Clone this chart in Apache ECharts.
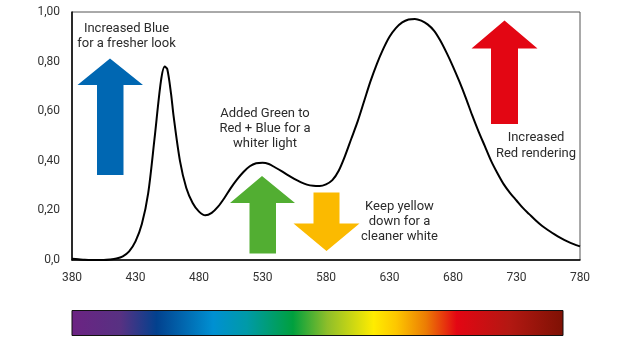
<!DOCTYPE html>
<html><head><meta charset="utf-8">
<script src="https://cdn.jsdelivr.net/npm/echarts@6/dist/echarts.min.js"></script>
<style>html,body{margin:0;padding:0;background:#fff}#c{width:618px;height:338px}</style>
</head><body><div id="c"></div>
<script>
// wavelength (nm)
const wavelengths = [380,385,390,395,400,405,410,415,420,425,430,435,440,445,450,453,455,458,460,465,470,475,480,485,490,495,500,505,510,515,520,525,530,535,540,545,550,555,560,565,570,575,580,585,590,595,600,605,610,615,620,625,630,635,640,645,650,655,660,665,670,675,680,685,690,695,700,705,710,715,720,725,730,735,740,745,750,755,760,765,770,775,780];
// relative intensity
const intensity = [0.005,0.003,0.001,0.0,0.0,0.0,0.002,0.006,0.015,0.035,0.075,0.145,0.27,0.49,0.72,0.78,0.77,0.67,0.58,0.40,0.29,0.23,0.195,0.18,0.19,0.215,0.25,0.29,0.325,0.355,0.378,0.39,0.392,0.387,0.373,0.358,0.342,0.327,0.314,0.304,0.299,0.298,0.305,0.322,0.36,0.42,0.49,0.56,0.64,0.72,0.79,0.85,0.90,0.935,0.958,0.97,0.972,0.965,0.95,0.925,0.885,0.835,0.78,0.72,0.655,0.585,0.52,0.46,0.40,0.35,0.305,0.27,0.24,0.21,0.185,0.16,0.138,0.12,0.103,0.088,0.075,0.064,0.055];
const xTicks = [380,430,480,530,580,630,680,730,780];
const yTicks = [0,0.2,0.4,0.6,0.8,1.0];
const notes = [
  'Increased Blue\nfor a fresher look',
  'Added Green to\nRed + Blue for a\nwhiter light',
  'Keep yellow\ndown for a\ncleaner white',
  'Increased\nRed rendering'
];

const FONT = 'Roboto';
const chart = echarts.init(document.getElementById('c'), null, {renderer:'canvas'});

function arrowUp(tipX, tipY, headY, headL, headR, shaftL, shaftR, bottom){
  return [[tipX,tipY],[headR,headY],[shaftR,headY],[shaftR,bottom],[shaftL,bottom],[shaftL,headY],[headL,headY]];
}
function arrowDown(tipX, tipY, headY, headL, headR, shaftL, shaftR, top){
  return [[tipX,tipY],[headR,headY],[shaftR,headY],[shaftR,top],[shaftL,top],[shaftL,headY],[headL,headY]];
}
function noteText(txt, x, y, lh){
  return {type:'text', z:10, style:{text:txt, x:x, y:y, align:'center', verticalAlign:'middle',
    font:'13px ' + FONT, fill:'#2b2b2b', lineHeight:lh}};
}

const option = {
  animation:false,
  grid:{left:72, right:38, top:12, bottom:78, show:true, borderColor:'#555', borderWidth:1},
  xAxis:{type:'value', min:380, max:780, interval:50,
    axisLine:{show:true, lineStyle:{color:'#000', width:1.5}},
    axisTick:{show:false}, splitLine:{show:false},
    axisLabel:{color:'#333', fontFamily:FONT, fontSize:12, margin:12,
      formatter:v => xTicks.includes(v) ? String(v) : ''}},
  yAxis:{type:'value', min:0, max:1, interval:0.2,
    axisLine:{show:true, lineStyle:{color:'#000', width:1.5}},
    axisTick:{show:false}, splitLine:{show:false},
    axisLabel:{color:'#333', fontFamily:FONT, fontSize:12, margin:12,
      formatter:v => { const t = yTicks.find(k => Math.abs(k-v)<1e-6); if (t===undefined) return ''; return t===0 ? '0,0' : t.toFixed(2).replace('.',','); }}},
  series:[{type:'line', data:wavelengths.map((w,i)=>[w,intensity[i]]), smooth:0.3, showSymbol:false,
    lineStyle:{color:'#000', width:2}, z:5}],
  graphic:[
    {type:'polygon', z:8, shape:{points:arrowUp(110,58.5,85,77.5,143,97,123.5,175)}, style:{fill:'#0067B2'}},
    {type:'polygon', z:8, shape:{points:arrowUp(262,176,203,230,295,249.5,276,253.5)}, style:{fill:'#52AE32'}},
    {type:'polygon', z:8, shape:{points:arrowDown(326.5,251,223.5,293.5,359.5,313.5,339.5,192.5)}, style:{fill:'#FBBA00'}},
    {type:'polygon', z:8, shape:{points:arrowUp(504.5,20.5,48.5,471.5,537.5,491,518,124)}, style:{fill:'#E30613'}},
    noteText(notes[0], 126.5, 36, 15),
    noteText(notes[1], 265, 128.5, 15),
    noteText(notes[2], 399.5, 221.5, 15),
    noteText(notes[3], 536, 145.5, 16.5),
    {type:'rect', z:8, shape:{x:72, y:310.5, width:491, height:25},
      style:{stroke:'#111', lineWidth:1,
        fill:new echarts.graphic.LinearGradient(0,0,1,0,[
          {offset:0, color:'#6C2383'},
          {offset:0.1, color:'#573182'},
          {offset:0.173, color:'#02418E'},
          {offset:0.288, color:'#0090D2'},
          {offset:0.356, color:'#009AA8'},
          {offset:0.45, color:'#00A03E'},
          {offset:0.52, color:'#8EBE2A'},
          {offset:0.614, color:'#FFEC00'},
          {offset:0.66, color:'#FDC700'},
          {offset:0.72, color:'#EC7D04'},
          {offset:0.783, color:'#E30613'},
          {offset:0.89, color:'#B31812'},
          {offset:1, color:'#7E1104'}
        ])}}
  ]
};
chart.setOption(option);
</script>
</body></html>
